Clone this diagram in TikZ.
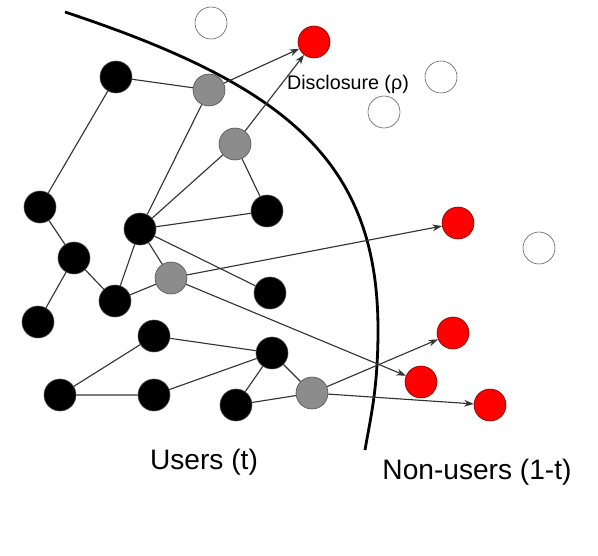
\documentclass[tikz,border=0pt]{standalone}
\usepackage{fontspec}
\setmainfont{Liberation Sans}
\setsansfont{Liberation Sans}
\usetikzlibrary{arrows.meta}
\begin{document}
\begin{tikzpicture}
[x=0.025cm, y=-0.025cm, font=\sffamily]
\tikzstyle{user}=[circle, draw=black!70, fill=black, inner sep=0mm, minimum size=8mm]
\tikzstyle{relay}=[circle, draw=black!70, fill=black!45, inner sep=0mm, minimum size=8mm]
\tikzstyle{reached}=[circle, draw=red!45!black, fill=red, inner sep=0mm, minimum size=8mm]
\tikzstyle{outsider}=[circle, draw=black!65, fill=white, inner sep=0mm, minimum size=8mm]
\tikzstyle{link}=[line width=0.8pt, black!80]
\tikzstyle{leak}=[line width=0.8pt, black!80, -{Stealth[length=2.4mm, width=1.7mm]}]
\useasboundingbox (0,0) rectangle (598,555);

% boundary between users and non-users
\draw[line width=2pt] (65,12) .. controls (285,85) and (378,160) .. (378,330)
                              .. controls (378,390) and (370,420) .. (365,450);

\node[user]	(U1)	at (116,77)	{};
\node[user]	(U2)	at (40,207)	{};
\node[user]	(U3)	at (74,258)	{};
\node[user]	(U4)	at (38,322)	{};
\node[user]	(U5)	at (140,229)	{};
\node[user]	(U6)	at (267,211)	{};
\node[user]	(U7)	at (115,301)	{};
\node[user]	(U8)	at (270,293)	{};
\node[user]	(U9)	at (154,336)	{};
\node[user]	(U10)	at (60,395)	{};
\node[user]	(U11)	at (154,395)	{};
\node[user]	(U12)	at (272,353)	{};
\node[user]	(U13)	at (236,405)	{};

\node[relay]	(G1)	at (209,90)	{};
\node[relay]	(G2)	at (235,144)	{};
\node[relay]	(G3)	at (171,278)	{};
\node[relay]	(G4)	at (312,393)	{};

\node[reached]	(N1)	at (314,42)	{};
\node[reached]	(N2)	at (458,223)	{};
\node[reached]	(N3)	at (453,333)	{};
\node[reached]	(N4)	at (421,382)	{};
\node[reached]	(N5)	at (490,405)	{};

\node[outsider]	(W1)	at (211,23)	{};
\node[outsider]	(W2)	at (441,77)	{};
\node[outsider]	(W3)	at (384,112)	{};
\node[outsider]	(W4)	at (539,248)	{};

\node[font=\fontsize{14}{16}\selectfont]	(disc)	at (348,84)	{Disclosure (ρ)};
\node[font=\fontsize{20}{24}\selectfont]	(users)	at (204,462)	{Users (t)};
\node[font=\fontsize{20}{24}\selectfont]	(nonusers)	at (477,472)	{Non-users (1-t)};

\draw[link]    (U1)--(G1)--(U5)--(U7)--(U3)--(U2)--(U1);
\draw[link]    (U3)--(U4);
\draw[link]    (U7)--(G3)--(U5)--(G2)--(U6)--(U5)--(U8);
\draw[link]    (U9)--(U10)--(U11)--(U12)--(U9);
\draw[link]    (U12)--(U13)--(G4)--(U12);

\draw[leak]    (G1)--(N1);
\draw[leak]    (G2)--(N1);
\draw[leak]    (G3)--(N2);
\draw[leak]    (G3)--(N4);
\draw[leak]    (G4)--(N3);
\draw[leak]    (G4)--(N5);
\end{tikzpicture}
\end{document}
